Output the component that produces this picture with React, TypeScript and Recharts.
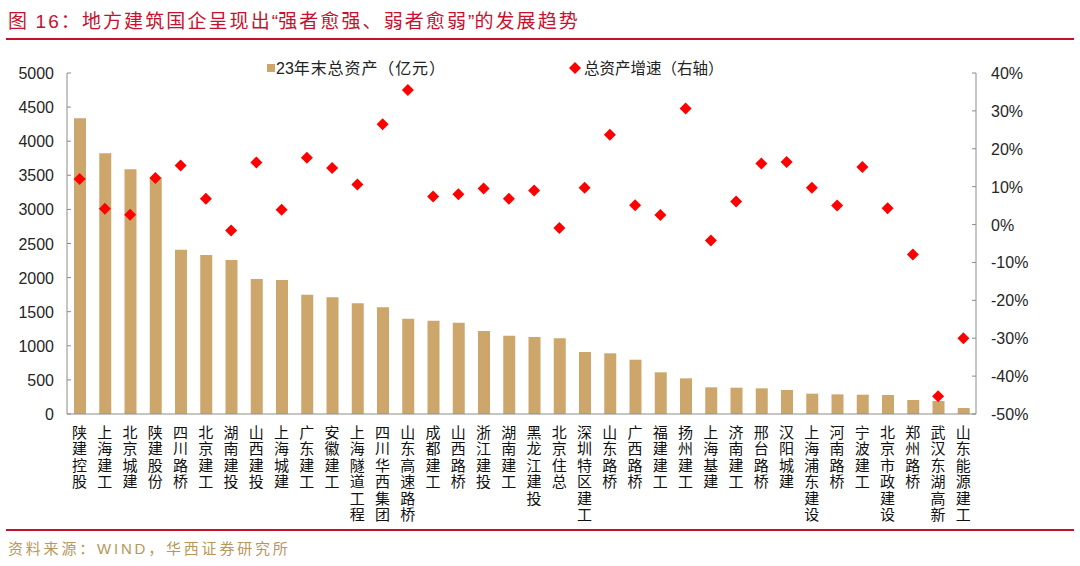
import React from "react";
import {
  ComposedChart,
  Bar,
  Scatter,
  XAxis,
  YAxis,
} from "recharts";

const companies = [
  "陕建控股", "上海建工", "北京城建", "陕建股份", "四川路桥", "北京建工",
  "湖南建投", "山西建投", "上海城建", "广东建工", "安徽建工", "上海隧道工程",
  "四川华西集团", "山东高速路桥", "成都建工", "山西路桥", "浙江建投", "湖南建工",
  "黑龙江建投", "北京住总", "深圳特区建工", "山东路桥", "广西路桥", "福建建工",
  "扬州建工", "上海基建", "济南建工", "邢台路桥", "汉阳城建", "上海浦东建设",
  "河南路桥", "宁波建工", "北京市政建设", "郑州路桥", "武汉东湖高新", "山东能源建工",
];

// 23年末总资产（亿元）
const totalAssets = [
  4335, 3822, 3588, 3465, 2409, 2331, 2258, 1979, 1965, 1750, 1711, 1623,
  1564, 1398, 1368, 1339, 1217, 1148, 1129, 1110, 909, 890, 796, 611,
  523, 391, 386, 376, 352, 298, 288, 283, 279, 205, 190, 88,
];

// 总资产增速（%）
const assetGrowth = [
  12.0, 4.2, 2.6, 12.3, 15.6, 6.8, -1.6, 16.4, 3.9, 17.6, 14.9, 10.6,
  26.5, 35.5, 7.4, 8.0, 9.5, 6.8, 9.0, -0.9, 9.7, 23.7, 5.1, 2.5,
  30.6, -4.2, 6.1, 16.1, 16.5, 9.7, 5.0, 15.2, 4.3, -7.9, -45.3, -30.0,
];

const leftTicks = [0, 500, 1000, 1500, 2000, 2500, 3000, 3500, 4000, 4500, 5000];
const rightTicks = [-50, -40, -30, -20, -10, 0, 10, 20, 30, 40];

const data = companies.map((name, i) => ({
  name,
  assets: totalAssets[i],
  growth: assetGrowth[i],
}));

const BAR = "#CDA66B";
const DOT = "#FF0000";
const AXIS = "#8C8C8C";
const RED = "#C8102E";
const NUM_FONT = "'Liberation Sans', Arial, sans-serif";
const CJK_FONT = "'Noto Sans CJK SC', sans-serif";

const LeftTick = (props: any) => {
  const { x, y, payload } = props;
  return (
    <g>
      <line x1={x} x2={x + 4} y1={y} y2={y} stroke={AXIS} />
      <text x={x - 13} y={y + 6} textAnchor="end" fontSize={16} fill="#262626" fontFamily={NUM_FONT}>
        {payload.value}
      </text>
    </g>
  );
};

const RightTick = (props: any) => {
  const { x, y, payload } = props;
  return (
    <g>
      <line x1={x - 4} x2={x} y1={y} y2={y} stroke={AXIS} />
      <text x={x + 15} y={y + 6} textAnchor="start" fontSize={16} fill="#262626" fontFamily={NUM_FONT}>
        {payload.value + "%"}
      </text>
    </g>
  );
};

const NameTick = (props: any) => {
  const { x, y, payload } = props;
  const chars = String(payload.value).split("");
  return (
    <text x={x} y={y + 24} textAnchor="middle" fontSize={15} fill="#111" fontFamily={CJK_FONT}>
      {chars.map((c, i) => (
        <tspan key={i} x={x} dy={i === 0 ? 0 : 16.4}>
          {c}
        </tspan>
      ))}
    </text>
  );
};

const Diamond = (props: any) => {
  const { cx, cy } = props;
  if (cx == null || cy == null) return null;
  const r = 6;
  return (
    <polygon
      points={`${cx},${cy - r} ${cx + r},${cy} ${cx},${cy + r} ${cx - r},${cy}`}
      fill={DOT}
    />
  );
};

const LegendBox = () => (
  <svg width={1080} height={26} style={{ position: "absolute", left: 0, top: 56 }}>
    <rect x={267} y={8} width={8} height={8} fill={BAR} />
    <text x={276} y={18} fontSize={16} letterSpacing={0.9} fill="#222" fontFamily={CJK_FONT}>
      <tspan fontFamily={NUM_FONT} letterSpacing={0}>23</tspan>年末总资产（亿元）
    </text>
    <polygon points="575,6 581,12 575,18 569,12" fill={DOT} />
    <text x={584} y={18} fontSize={15.5} fill="#222" fontFamily={CJK_FONT}>
      总资产增速（右轴）
    </text>
  </svg>
);

export default function App() {
  return (
    <div
      style={{
        position: "absolute",
        left: 0,
        top: 0,
        width: 1080,
        height: 566,
        background: "#fff",
        overflow: "hidden",
      }}
    >
      <div
        style={{
          position: "absolute",
          left: 8,
          top: 6,
          fontSize: 19,
          letterSpacing: 2.1,
          color: RED,
          fontFamily: CJK_FONT,
          whiteSpace: "nowrap",
        }}
      >
        图 <span style={{ fontFamily: NUM_FONT }}>16</span>：地方建筑国企呈现出
        <span style={{ fontFamily: NUM_FONT, letterSpacing: 0 }}>“</span>强者愈强、弱者愈弱
        <span style={{ fontFamily: NUM_FONT, letterSpacing: 0 }}>”</span>的发展趋势
      </div>
      <div style={{ position: "absolute", left: 6, top: 38, width: 1068, height: 2, background: RED }} />

      <ComposedChart
        width={1080}
        height={566}
        data={data}
        margin={{ top: 73, right: 0, bottom: 0, left: 0 }}
      >
        <XAxis
          dataKey="name"
          interval={0}
          height={152}
          tickSize={0}
          tickMargin={0}
          tickLine={false}
          axisLine={{ stroke: AXIS }}
          tick={<NameTick />}
        />
        <YAxis
          yAxisId="left"
          orientation="left"
          width={67}
          domain={[0, 5000]}
          ticks={leftTicks}
          interval={0}
          tickSize={0}
          tickMargin={0}
          tickLine={false}
          axisLine={{ stroke: AXIS }}
          tick={<LeftTick />}
        />
        <YAxis
          yAxisId="right"
          orientation="right"
          width={104}
          domain={[-50, 40]}
          ticks={rightTicks}
          interval={0}
          tickSize={0}
          tickMargin={0}
          tickLine={false}
          axisLine={{ stroke: AXIS }}
          tick={<RightTick />}
        />
        <Bar
          yAxisId="left"
          dataKey="assets"
          name="23年末总资产（亿元）"
          fill={BAR}
          barSize={12}
          isAnimationActive={false}
        />
        <Scatter
          yAxisId="right"
          dataKey="growth"
          name="总资产增速（右轴）"
          fill={DOT}
          shape={<Diamond />}
          isAnimationActive={false}
        />
      </ComposedChart>

      <LegendBox />

      <div style={{ position: "absolute", left: 6, top: 529, width: 1068, height: 2, background: RED }} />
      <div
        style={{
          position: "absolute",
          left: 8,
          top: 537,
          fontSize: 15,
          letterSpacing: 2.8,
          color: "#B8975A",
          fontFamily: CJK_FONT,
          whiteSpace: "nowrap",
        }}
      >
        资料来源：<span style={{ fontFamily: NUM_FONT }}>WIND</span>，华西证券研究所
      </div>
    </div>
  );
}
